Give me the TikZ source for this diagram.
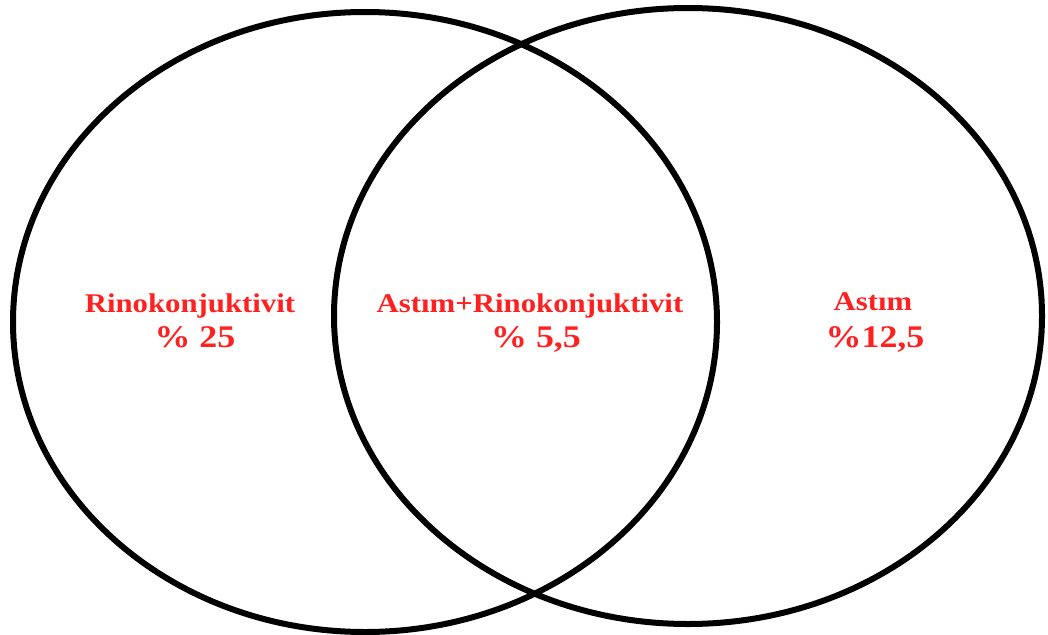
\documentclass[tikz,border=0pt]{standalone}
\usepackage{fontspec}
\setmainfont{Liberation Serif}
\definecolor{lblred}{RGB}{255,32,32}
\tikzset{
  venn/.style={draw=black, line width=6pt},
  lblA/.style={text=lblred, font=\bfseries\fontsize{27}{27}\selectfont, anchor=base, inner sep=0pt, xscale=1.14},
  lblB/.style={text=lblred, font=\bfseries\fontsize{31.5}{31.5}\selectfont, anchor=base, inner sep=0pt, xscale=1.14}
}
\begin{document}
\begin{tikzpicture}[x=1pt, y=-1pt]
\useasboundingbox (0,0) rectangle (1048,634);
\fill[white] (0,0) rectangle (1048,634);
\draw[venn] (365,322) ellipse [x radius=352pt, y radius=310pt];
\draw[venn] (688,316) ellipse [x radius=354pt, y radius=308pt];
\node[lblA] (l1) at (190,312) {Rinokonjuktivit};
\node[lblB] (l2) at (195,347) {\% 25};
\node[lblA] (m1) at (530,312) {Astım+Rinokonjuktivit};
\node[lblB] (m2) at (536,347) {\% 5,5};
\node[lblA] (r1) at (873,310) {Astım};
\node[lblB] (r2) at (875,347) {\%12,5};
\end{tikzpicture}
\end{document}
